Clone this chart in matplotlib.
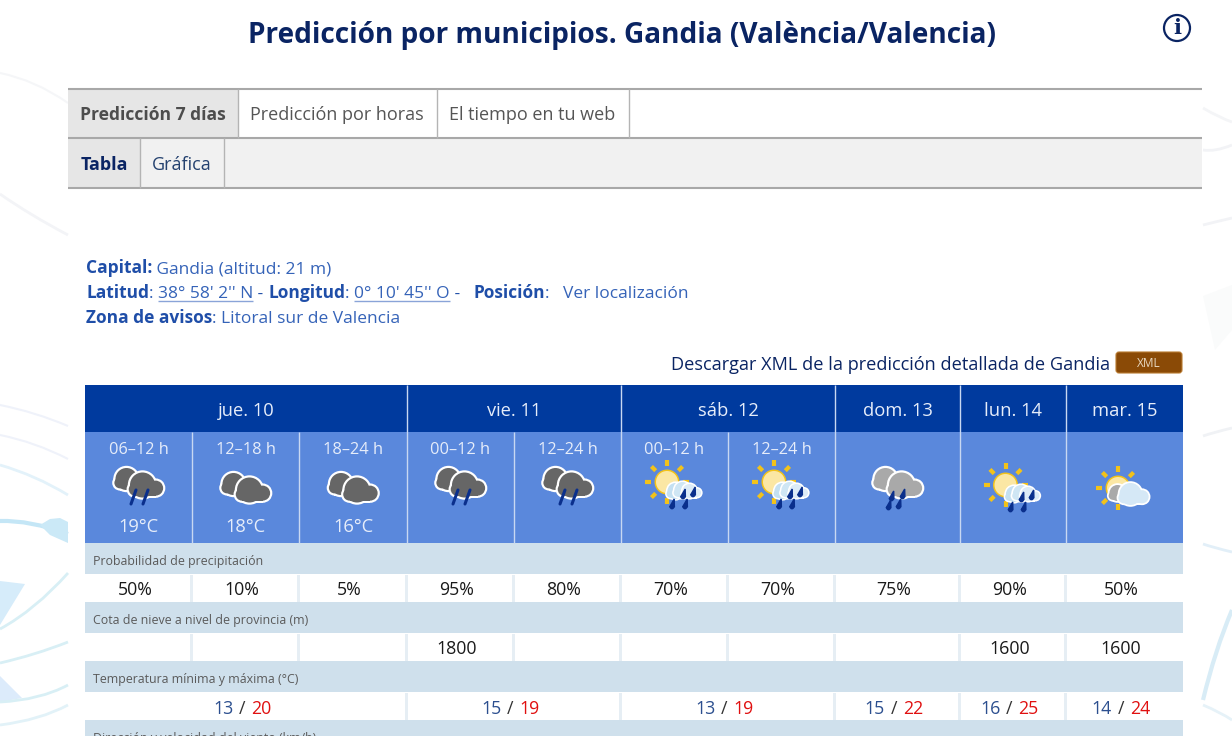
import numpy as np
import matplotlib
matplotlib.use("Agg")
import matplotlib.pyplot as plt
from matplotlib.patches import Rectangle, Circle, FancyBboxPatch, Polygon
from matplotlib.path import Path
from matplotlib.patches import PathPatch

plt.rcParams['font.family'] = ['Open Sans', 'DejaVu Sans']

# data
title = "Predicción por municipios. Gandia (València/Valencia)"
tabs = ["Predicción 7 días", "Predicción por horas", "El tiempo en tu web"]
subtabs = ["Tabla", "Gráfica"]
days = ["jue. 10", "vie. 11", "sáb. 12", "dom. 13", "lun. 14", "mar. 15"]
day_spans = [3, 2, 2, 1, 1, 1]
periods = ["06–12 h", "12–18 h", "18–24 h", "00–12 h", "12–24 h", "00–12 h", "12–24 h", "", "", ""]
period_temps = ["19°C", "18°C", "16°C", "", "", "", "", "", "", ""]
icons = ["rain", "cloud", "cloud", "rain", "rain", "sunrain", "sunrain", "greyrain", "sunrain", "suncloud"]
precip = ["50%", "10%", "5%", "95%", "80%", "70%", "70%", "75%", "90%", "50%"]
snow = ["", "", "", "1800", "", "", "", "", "1600", "1600"]
temp_min = [13, 15, 13, 15, 16, 14]
temp_max = [20, 19, 19, 22, 25, 24]
row_labels = ["Probabilidad de precipitación", "Cota de nieve a nivel de provincia (m)",
              "Temperatura mínima y máxima (°C)", "Dirección y velocidad del viento (km/h)"]

# layout, pixels
edges = [85, 192, 299, 407, 514, 621, 728, 835, 960, 1066, 1183]
NAVY = "#0a2463"
BLUE = "#1f4ea8"
DARK = "#003a9e"
MID = "#5a88dc"
PALE = "#cfe0ec"
HEAD = "#e6edfa"
GAP = "#e6eef4"

fig = plt.figure(figsize=(12.32, 7.36), dpi=100)
ax = fig.add_axes([0, 0, 1, 1])
ax.set_xlim(0, 1232)
ax.set_ylim(736, 0)
ax.axis("off")


def rect(x0, y0, x1, y1, color, z=2):
    ax.add_patch(Rectangle((x0, y0), x1 - x0, y1 - y0, facecolor=color, edgecolor="none", zorder=z))


def line(xs, ys, color, lw=1.0, z=3):
    ax.plot(xs, ys, color=color, lw=lw, zorder=z, solid_capstyle="butt")


def txt(x, y, s, size=12, color="#333333", weight="normal", ha="center", z=7):
    return ax.text(x, y + 1.5, s, fontsize=size, color=color, fontweight=weight, ha=ha, va="center", zorder=z)


def run(x, y, parts, size=12.5):
    # text pieces one after another on one baseline
    for s, color, weight in parts:
        t = ax.text(x, y, s, fontsize=size, color=color, fontweight=weight, ha="left", va="baseline", zorder=7)
        x = t.get_window_extent(fig.canvas.get_renderer()).x1
    return x


# faint background strokes outside the page column
def stroke(pts, color, lw):
    codes = [Path.MOVETO] + [Path.CURVE3] * (len(pts) - 1)
    ax.add_patch(PathPatch(Path(pts, codes), fill=False, edgecolor=color, lw=lw, zorder=1))


def blob(pts, color):
    ax.add_patch(Polygon(pts, facecolor=color, edgecolor="none", zorder=1))


stroke([(0, 73), (35, 80), (68, 103)], "#f5f6f8", 1.5)
stroke([(0, 194), (30, 215), (68, 235)], "#f3f4f7", 2)
stroke([(0, 405), (35, 412), (68, 426)], "#eff2fa", 1.5)
stroke([(0, 435), (35, 442), (68, 459)], "#eff2fa", 1.5)
stroke([(0, 465), (35, 475), (68, 495)], "#e3f2fa", 2)
stroke([(0, 521), (30, 520), (68, 534)], "#c4e6f6", 3)
blob([(40, 525), (50, 519), (60, 518), (68, 522), (68, 543), (50, 535)], "#cbe9f7")
blob([(0, 581), (25, 584), (0, 625)], "#d6ecfa")
stroke([(0, 629), (35, 610), (68, 573)], "#d8eff5", 2)
stroke([(0, 663), (35, 655), (68, 642)], "#d8eff5", 2)
blob([(0, 676), (22, 698), (0, 702)], "#dcebfb")
stroke([(0, 702), (40, 700), (68, 685)], "#d8eff5", 2)
stroke([(0, 725), (40, 720), (68, 705)], "#e2f2f8", 2)
stroke([(1203, 108), (1220, 118), (1232, 122)], "#f4f5f7", 2)
stroke([(1203, 150), (1215, 152), (1232, 145)], "#f2f3f6", 2)
stroke([(1203, 225), (1215, 222), (1232, 218)], "#f2f3f6", 2)
blob([(1203, 296), (1232, 285), (1232, 330), (1215, 350)], "#fafbfb")
stroke([(1203, 436), (1215, 432), (1232, 428)], "#f0f2f5", 2)
stroke([(1203, 544), (1215, 548), (1232, 552)], "#e2eff8", 2)
stroke([(1203, 700), (1215, 650), (1232, 610)], "#d8ecf6", 3)
stroke([(1203, 705), (1220, 712), (1232, 720)], "#e6f2f8", 2)

# title and info icon
txt(622, 34.5, title, 20.2, NAVY, "bold")
ax.add_patch(Circle((1177, 28), 13, facecolor="white", edgecolor=NAVY, lw=1.6, zorder=3))
ax.text(1177, 28, "i", fontsize=15, color=NAVY, fontweight="bold", family="DejaVu Serif", ha="center", va="center", zorder=4)

# tab bars
rect(68, 89, 1202, 138, "white")
rect(68, 89, 238, 138, "#e6e6e6")
rect(68, 138, 1202, 188, "#f1f1f1")
rect(68, 138, 140, 188, "#e6e6e6")
for y in [89, 138, 188]:
    line([68, 1202], [y, y], "#a8a8a8", 1.5)
for x in [238, 437, 629]:
    line([x, x], [89, 138], "#b4b4b4", 1.0)
for x in [140, 224]:
    line([x, x], [138, 188], "#b4b4b4", 1.0)
txt(153, 114, tabs[0], 12.6, "#4d4d4d", "bold")
txt(337, 114, tabs[1], 13.0, "#555555")
txt(532, 114, tabs[2], 13.0, "#555555")
txt(104, 164, subtabs[0], 13.0, NAVY, "bold")
txt(182, 164, subtabs[1], 13.0, "#24416f")

# location lines
LINK = "#3563b8"
run(86, 273, [("Capital:", BLUE, "bold"), (" Gandia (altitud: 21 m)", LINK, "normal")])
end = run(86, 298, [("Latitud", BLUE, "bold"), (": ", LINK, "normal")])
end2 = run(end, 298, [("38° 58' 2'' N", LINK, "normal")])
line([end, end2], [301, 301], "#8aa4d8", 1.0)
end3 = run(end2, 298, [(" - ", BLUE, "normal"), ("Longitud", BLUE, "bold"), (": ", LINK, "normal")])
end4 = run(end3, 298, [("0° 10' 45'' O", LINK, "normal")])
line([end3, end4], [301, 301], "#8aa4d8", 1.0)
run(end4, 298, [(" -   ", BLUE, "normal"), ("Posición", BLUE, "bold"), (":   Ver localización", LINK, "normal")])
run(86, 323, [("Zona de avisos", BLUE, "bold"), (": Litoral sur de Valencia", LINK, "normal")])

# download line
txt(1110, 363.5, "Descargar XML de la predicción detallada de Gandia", 13.1, NAVY, ha="right")
ax.add_patch(FancyBboxPatch((1116, 352), 66, 21, boxstyle="round,pad=0,rounding_size=3",
                            facecolor="#8a4a06", edgecolor="#b87a30", lw=0.8, zorder=3))
txt(1149, 362, "XML", 8.6, "#e8d8c0")

# day header and period cells
rect(edges[0], 385, edges[-1], 432, DARK)
rect(edges[0], 432, edges[-1], 543, MID)
col = 0
for day, span in zip(days, day_spans):
    x0, x1 = edges[col], edges[col + span]
    txt((x0 + x1) / 2, 409.5, day, 13.2, HEAD)
    col += span
    if col < len(edges) - 1:
        line([x1, x1], [385, 543], "#c8d8f2", 1.0, 4)
for i in range(len(periods)):
    x0, x1 = edges[i], edges[i + 1]
    cx = (x0 + x1) / 2
    if periods[i]:
        txt(cx, 449, periods[i], 11.8, HEAD)
        if i in (0, 1, 3, 5):
            line([x1, x1], [432, 543], "#c8d8f2", 1.0, 4)
    if period_temps[i]:
        txt(cx, 526, period_temps[i], 13.2, HEAD)


# weather icons built from circles
def cloud(cx, cy, s, fill, z=5.0, ring=2.2):
    parts = [(0, 0, 1.0), (1.05, 0.25, 0.6), (-0.6, 0.35, 0.5)]
    for grow, color, zz in [(ring, "white", z), (0.0, fill, z + 0.1)]:
        for dx, dy, r in parts:
            ax.add_patch(Circle((cx + dx * s, cy + dy * s), r * s + grow, facecolor=color, edgecolor="none", zorder=zz))
        ax.add_patch(Rectangle((cx - 0.6 * s, cy + 0.2 * s), 1.65 * s, 0.65 * s + grow, facecolor=color, edgecolor="none", zorder=zz))


def double_cloud(cx, cy, fill):
    cloud(cx - 12, cy - 6, 11, fill, 5.0)
    cloud(cx + 4, cy, 12.5, fill, 5.3)


def streak(cx, cy):
    for dx in [-6, 6]:
        ax.plot([cx + dx + 2.5, cx + dx - 2.5], [cy - 7, cy + 7], color="#0a2f8c", lw=2.2, zorder=6, solid_capstyle="round")


def drops(pts):
    for x, y in pts:
        ax.add_patch(Polygon([(x + 2.2, y - 6), (x + 2.4, y + 2), (x - 2.4, y + 2)], facecolor="#0a2f8c", edgecolor="#0a2f8c", lw=1, zorder=6))
        ax.add_patch(Circle((x, y + 2), 2.4, facecolor="#0a2f8c", edgecolor="none", zorder=6))


def sun(cx, cy, r=11):
    for a in np.arange(0, 360, 45):
        t = np.radians(a)
        ax.plot([cx + (r + 5) * np.cos(t), cx + (r + 11) * np.cos(t)], [cy + (r + 5) * np.sin(t), cy + (r + 11) * np.sin(t)],
                color="#f2c21a", lw=3, zorder=4, solid_capstyle="butt")
    ax.add_patch(Circle((cx, cy), r + 1.5, facecolor="#f2c21a", edgecolor="none", zorder=4))
    ax.add_patch(Circle((cx, cy), r, facecolor="#fbe7a4", edgecolor="none", zorder=4.1))


for i, kind in enumerate(icons):
    cx = (edges[i] + edges[i + 1]) / 2
    if kind == "rain":
        double_cloud(cx, 485, "#666666")
        streak(cx + 1, 497)
    elif kind == "cloud":
        double_cloud(cx, 490, "#666666")
    elif kind == "greyrain":
        double_cloud(cx, 485, "#a9a9a9")
        drops([(cx - 6, 497), (cx + 5, 495), (cx - 9, 506), (cx + 1, 505)])
    elif kind == "sunrain":
        dy = 3 if i == 8 else 0
        sun(cx - 7.5, 482 + dy)
        cloud(cx + 1, 491 + dy, 8, "#c4e0f2", 5.0, 1.6)
        cloud(cx + 8, 490 + dy, 8, "#cfe6f4", 5.2, 1.6)
        cloud(cx + 15, 491 + dy, 7, "#dcebf7", 5.4, 1.6)
        drops([(cx + 8.5, 495 + dy), (cx + 18.5, 493 + dy), (cx - 2.5, 505 + dy), (cx + 10.5, 505 + dy)])
    elif kind == "suncloud":
        sun(cx - 6.5, 488, 11)
        cloud(cx - 7, 493, 8, "#a9a9a9", 5.0, 1.8)
        cloud(cx + 6, 494, 11, "#d5e8f6", 5.3, 1.8)

# label and value rows
label_rows = [(543, 574), (602, 633), (661, 692), (720, 736)]
for (y0, y1), label in zip(label_rows, row_labels):
    rect(edges[0], y0, edges[-1], y1, PALE)
    txt(93, y0 + 17, label, 8.9, "#5a5a5a", ha="left")


def value_row(y0, y1, values):
    rect(edges[0], y0, edges[-1], y1, "white", 3)
    for i, v in enumerate(values):
        if v:
            txt((edges[i] + edges[i + 1]) / 2 - 3.5, (y0 + y1) / 2, v, 12.8, "#1a1a1a")
    for x in edges[1:-1]:
        rect(x - 2, y0, x + 1, y1, GAP, 3.5)


value_row(575, 602, precip)
value_row(634, 661, snow)

# temperature row spans the days
col = 0
rect(edges[0], 693, edges[-1], 720, "white", 3)
for lo, hi, span in zip(temp_min, temp_max, day_spans):
    x0, x1 = edges[col], edges[col + span]
    cx = (x0 + x1) / 2 - 3.5
    txt(cx - 9, 707, str(lo), 12.8, "#2c4f8f", ha="right")
    txt(cx, 707, "/", 12.8, "#333333")
    txt(cx + 9, 707, str(hi), 12.8, "#e01010", ha="left")
    col += span
    if col < len(edges) - 1:
        rect(x1 - 2, 693, x1 + 1, 720, GAP, 3.5)

fig.savefig("out.png", dpi=100)
